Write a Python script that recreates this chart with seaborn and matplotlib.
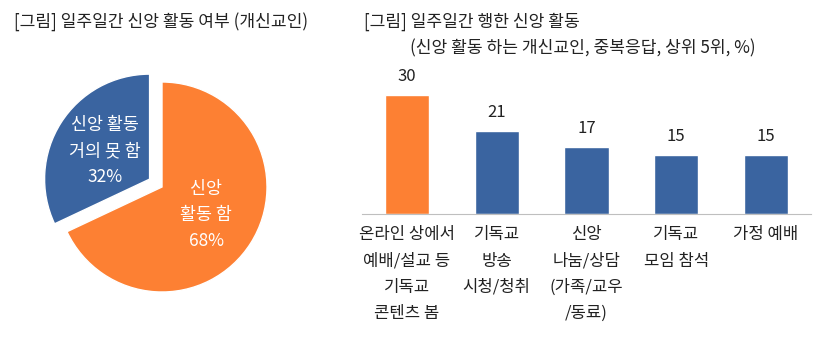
import matplotlib
matplotlib.use("Agg")
import matplotlib.pyplot as plt
import seaborn as sns

# 데이터
pie_labels = ["신앙\n활동 함", "신앙 활동\n거의 못 함"]
pie_values = [68, 32]

bar_labels = ["온라인 상에서\n예배/설교 등\n기독교\n콘텐츠 봄",
              "기독교\n방송\n시청/청취",
              "신앙\n나눔/상담\n(가족/교우\n/동료)",
              "기독교\n모임 참석",
              "가정 예배"]
bar_values = [30, 21, 17, 15, 15]

orange = "#FD8033"
blue = "#3A64A0"
text_color = "#222222"

sns.set_style("white")
plt.rcParams['font.family'] = ['Noto Sans CJK KR', 'DejaVu Sans']

W, H = 835, 359
fig = plt.figure(figsize=(W / 100, H / 100), dpi=100)

# 파이 차트
cx, cy, r = 162, 187, 105
lim = 1.4
half = lim * r
ax1 = fig.add_axes([(cx - half) / W, (H - cy - half) / H, 2 * half / W, 2 * half / H])
texts = ax1.pie(pie_values, labels=[f"{l}\n{v}%" for l, v in zip(pie_labels, pie_values)],
                colors=[orange, blue], startangle=90, counterclock=False,
                explode=[0, 0.14], labeldistance=0.5,
                wedgeprops=dict(edgecolor="white", linewidth=1),
                textprops=dict(color="white", fontsize=12.5, linespacing=1.55))[1]
for t in texts:
    t.set_ha("center")
    t.set_va("center")
    t.set_multialignment("center")
ax1.set_xlim(-lim, lim)
ax1.set_ylim(-lim, lim)
ax1.set_aspect("equal")
ax1.axis("off")

# 막대 차트
x0, x1, base = 362, 811, 214
ppu = 119 / 30
ymax = 33
ax2 = fig.add_axes([x0 / W, (H - base) / H, (x1 - x0) / W, ymax * ppu / H])
sns.barplot(x=bar_labels, y=bar_values, hue=bar_labels,
            palette=[orange, blue, blue, blue, blue], legend=False,
            width=0.49, saturation=1, ax=ax2)
for c in ax2.containers:
    ax2.bar_label(c, padding=7, fontsize=12, color=text_color)
ax2.set_xlim(-0.5, 4.5)
ax2.set_ylim(0, ymax)
ax2.set_yticks([])
ax2.set_xlabel("")
ax2.set_ylabel("")
for s in ["top", "right", "left"]:
    ax2.spines[s].set_visible(False)
ax2.spines["bottom"].set_color("#BFBFBF")
ax2.tick_params(axis="x", length=0, pad=9, labelsize=12, colors=text_color)
for lbl in ax2.get_xticklabels():
    lbl.set_linespacing(1.7)

# 제목
fig.text(14 / W, 1 - 22 / H, "[그림] 일주일간 신앙 활동 여부 (개신교인)",
         fontsize=12.3, color=text_color, ha="left", va="center")
fig.text(364 / W, 1 - 22 / H, "[그림] 일주일간 행한 신앙 활동",
         fontsize=12.3, color=text_color, ha="left", va="center")
fig.text(410 / W, 1 - 48 / H, "(신앙 활동 하는 개신교인, 중복응답, 상위 5위, %)",
         fontsize=12.3, color=text_color, ha="left", va="center")

fig.savefig("out.png", dpi=100)
